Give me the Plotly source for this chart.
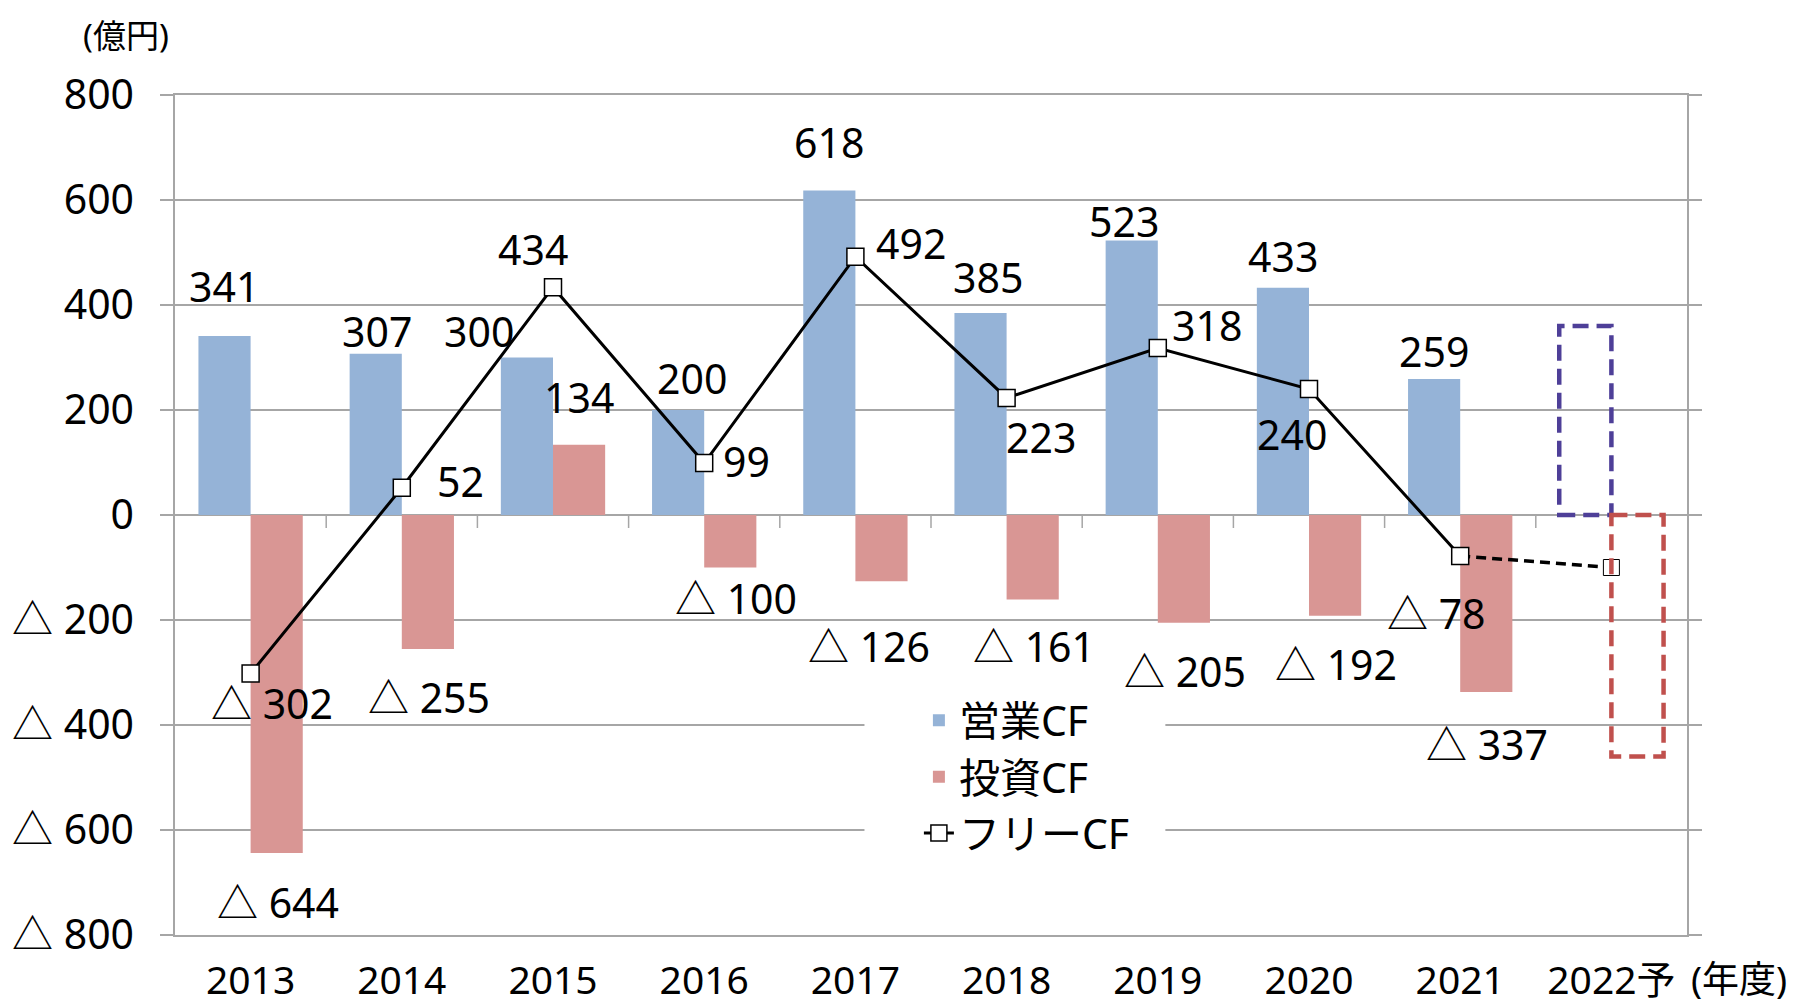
import plotly.graph_objects as go

# ---------------- data ----------------
years = ["2013", "2014", "2015", "2016", "2017", "2018", "2019", "2020", "2021", "2022予"]
op_cf = [341, 307, 300, 200, 618, 385, 523, 433, 259]          # 営業CF
inv_cf = [-644, -255, 134, -100, -126, -161, -205, -192, -337]  # 投資CF
free_cf = [-302, 52, 434, 99, 492, 223, 318, 240, -78]          # フリーCF
forecast_op = 360
forecast_inv = -460
forecast_free = -100
y_ticks = [-800, -600, -400, -200, 0, 200, 400, 600, 800]

# ---------------- styles ----------------
FONT = "Noto Sans, Noto Sans CJK JP, sans-serif"
BLUE = "#95B3D7"
RED = "#D99694"
GRID = "#A6A6A6"
BAR_W = 0.345
FS = 41

# label pixel offsets (dx, dy) relative to the bar end / marker
op_off = [(-1, 50), (1, 23), (-48, 27), (14, 32), (0, 49), (7, 36), (-8, 19), (0, 32), (0, 28)]
inv_off = [(1, -49), (1, -48), (0, 48), (6, -30), (-12, -65), (1, -46), (1, -48), (1, -48), (1, -52)]
free_off = [(21, -29), (59, 7), (-20, 38), (42, 2), (56, 14), (34, -39), (49, 23), (-17, -45), (-24, -57)]


def fmt(v):
    return f"△ {abs(v)}" if v < 0 else f"{v}"


idx = list(range(len(years)))
act = idx[:len(op_cf)]
last = len(years) - 1

fig = go.Figure()
fig.add_trace(go.Bar(x=act, y=op_cf, width=BAR_W, offset=-BAR_W, name="営業CF",
                     marker=dict(color=BLUE, line=dict(width=0)), legendgroup="a"))
fig.add_trace(go.Bar(x=act, y=inv_cf, width=BAR_W, offset=0, name="投資CF",
                     marker=dict(color=RED, line=dict(width=0)), legendgroup="b"))
# forecast dashed segment
fig.add_trace(go.Scatter(x=[act[-1], last], y=[free_cf[-1], forecast_free], mode="lines",
                         line=dict(color="black", width=3.5, dash="10px,6px"), showlegend=False,
                         hoverinfo="skip"))
fig.add_trace(go.Scatter(x=act, y=free_cf, mode="lines+markers", name="フリーCF",
                         line=dict(color="black", width=3),
                         marker=dict(symbol="square", size=17, color="white",
                                     line=dict(color="black", width=1.5)),
                         legendgroup="c"))
fig.add_trace(go.Scatter(x=[last], y=[forecast_free], mode="markers", showlegend=False,
                         marker=dict(symbol="square", size=16, color="white",
                                     line=dict(color="black", width=1))))

shapes = []
# white legend backdrop (covers gridlines like the original legend box)
shapes.append(dict(type="rect", xref="paper", yref="paper", x0=0.456, x1=0.655, y0=0.094, y1=0.29,
                   fillcolor="white", line=dict(width=0), layer="above"))
# dashed forecast boxes
shapes.append(dict(type="rect", xref="x", yref="y", x0=last - BAR_W, x1=last, y0=0, y1=forecast_op,
                   line=dict(color="#4E3F98", width=4.5, dash="16px,8px"), fillcolor="rgba(0,0,0,0)"))
shapes.append(dict(type="rect", xref="x", yref="y", x0=last, x1=last + BAR_W, y0=0, y1=forecast_inv,
                   line=dict(color="#C0504D", width=4.5, dash="16px,8px"), fillcolor="rgba(0,0,0,0)"))
# category tick marks on the zero line
for i in range(len(years) - 1):
    shapes.append(dict(type="line", xref="x", yref="y", ysizemode="pixel", yanchor=0,
                       x0=i + 0.5, x1=i + 0.5, y0=0, y1=-13,
                       line=dict(color=GRID, width=1.5), layer="below"))

ann = []
for i, v in enumerate(op_cf):
    dx, dy = op_off[i]
    ann.append(dict(x=i - BAR_W / 2, y=v, xref="x", yref="y", text=fmt(v), showarrow=False,
                    xshift=dx, yshift=dy, font=dict(size=FS, color="black", family=FONT)))
for i, v in enumerate(inv_cf):
    dx, dy = inv_off[i]
    ann.append(dict(x=i + BAR_W / 2, y=v, xref="x", yref="y", text=fmt(v), showarrow=False,
                    xshift=dx, yshift=dy, font=dict(size=FS, color="black", family=FONT)))
for i, v in enumerate(free_cf):
    dx, dy = free_off[i]
    ann.append(dict(x=i, y=v, xref="x", yref="y", text=fmt(v), showarrow=False,
                    xshift=dx, yshift=dy, font=dict(size=FS, color="black", family=FONT)))
ann.append(dict(x=-0.0327, y=1.071, xref="paper", yref="paper", text="(億円)", showarrow=False,
                xanchor="center", yanchor="middle", font=dict(size=33, color="black", family=FONT)))
ann.append(dict(x=1.001, y=-0.052, xref="paper", yref="paper", text="(年度)", showarrow=False,
                xanchor="left", yanchor="middle", font=dict(size=37, color="black", family=FONT)))

# the page body adds an 8px offset; size the figure so the plot area lands where the original is
fig.update_layout(
    width=1810, height=998,
    margin=dict(l=167, r=131, t=87, b=71),
    paper_bgcolor="white", plot_bgcolor="white",
    font=dict(family=FONT, size=FS, color="black"),
    shapes=shapes, annotations=ann,
    showlegend=True,
    legend=dict(x=0.492, y=0.295, xanchor="left", yanchor="top", bgcolor="white",
                font=dict(size=FS, family=FONT), tracegroupgap=4, traceorder="normal"),
    barmode="overlay",
)
fig.update_xaxes(range=[-0.5, len(years) - 0.5], tickvals=idx, ticktext=years,
                 showgrid=False, zeroline=False, showline=True, linecolor=GRID, linewidth=1.5,
                 mirror=True, ticks="outside", ticklen=10, tickcolor="rgba(0,0,0,0)",
                 tickfont=dict(size=39, family=FONT), automargin=False)
fig.update_yaxes(range=[-800, 800], tickvals=y_ticks, ticktext=[fmt(v) for v in y_ticks],
                 showgrid=True, gridcolor=GRID, gridwidth=1.5,
                 zeroline=True, zerolinecolor=GRID, zerolinewidth=1.5,
                 showline=True, linecolor=GRID, linewidth=1.5, mirror="ticks",
                 ticks="outside", ticklen=13, tickcolor=GRID, tickwidth=1.5,
                 ticklabelstandoff=18, tickfont=dict(size=FS, family=FONT), automargin=False)

fig.write_html("out.html")
